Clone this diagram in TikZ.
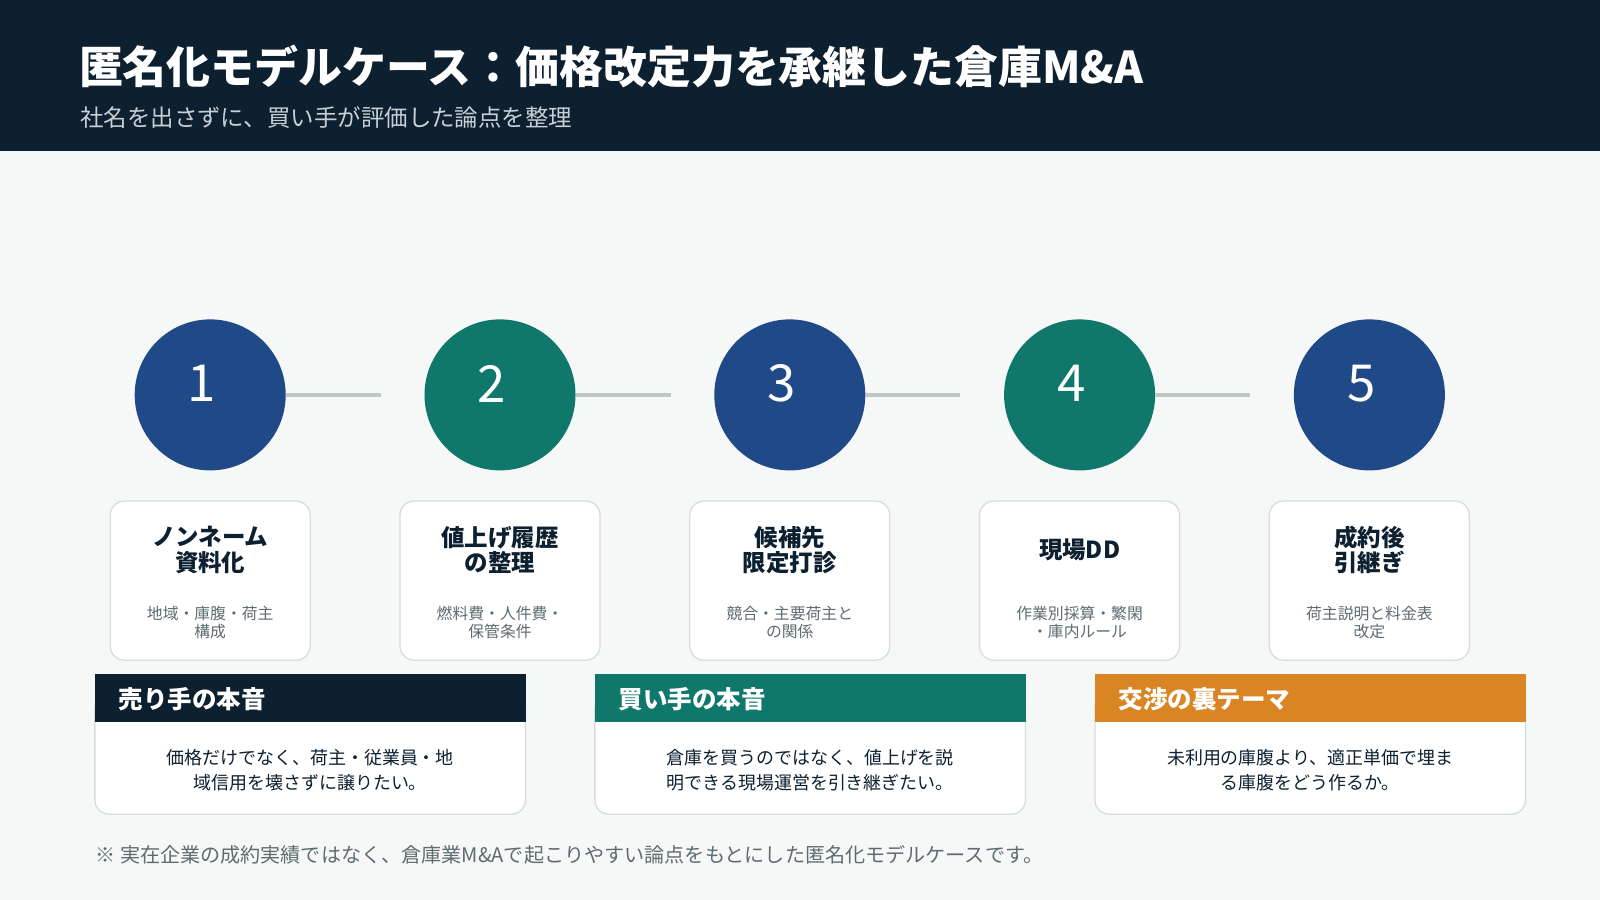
\documentclass[tikz,border=0pt]{standalone}
\usepackage{fontspec}
\usetikzlibrary{calc}
\setmainfont{Noto Sans CJK JP}
\definecolor{navy}{HTML}{0D2030}
\definecolor{bg}{HTML}{F6F8F8}
\definecolor{cblue}{HTML}{1F4A87}
\definecolor{cteal}{HTML}{10776B}
\definecolor{corange}{HTML}{D98524}
\definecolor{lineg}{HTML}{BCCAC6}
\definecolor{bord}{HTML}{D5DEDB}
\definecolor{subg}{HTML}{5E6B72}
\definecolor{subt}{HTML}{C8D0D6}
\begin{document}
\begin{tikzpicture}[x=1pt,y=-1pt,
  circ/.style={circle,minimum size=148pt,inner sep=0pt},
  num/.style={text=white,font=\fontsize{50}{50}\selectfont},
  conn/.style={draw=lineg,line width=4pt},
  card/.style={draw=bord,line width=1.3pt,fill=white,rounded corners=14pt},
  ctitle/.style={align=center,text=navy,font=\fontsize{23}{25}\selectfont\bfseries},
  csub/.style={align=center,text=subg,font=\fontsize{15.5}{17}\selectfont},
  bbox/.style={draw=bord,line width=1.3pt,fill=white,rounded corners=14pt},
  bhead/.style={text=white,font=\fontsize{24}{25}\selectfont\bfseries,anchor=west},
  btext/.style={align=center,text=navy,font=\fontsize{17.6}{24}\selectfont}]
\fill[bg] (0,0) rectangle (1568,882);
\fill[navy] (0,0) rectangle (1568,148);
\node[anchor=west,text=white,font=\fontsize{43}{46}\selectfont\bfseries] (title) at (74,65) {匿名化モデルケース：価格改定力を承継した倉庫M\&A};
\node[anchor=west,text=subt,font=\fontsize{23}{25}\selectfont] (sub) at (75,115) {社名を出さずに、買い手が評価した論点を整理};
\foreach \i/\x/\c in {1/206/cblue,2/490/cteal,3/774/cblue,4/1058/cteal,5/1342/cblue}{
  \node[circ,fill=\c] (c\i) at (\x,387) {};
  \node[num] (n\i) at (\x-8,376) {\i};
}
\foreach \i in {1,2,3,4}{
  \coordinate (e\i) at ($(c\i.east)+(93,0)$);
  \draw[conn] (c\i.east) -- (e\i);
}
\foreach \i/\x/\t/\s in {1/206/{ノンネーム\\資料化}/{地域・庫腹・荷主\\構成},
  2/490/{値上げ履歴\\の整理}/{燃料費・人件費・\\保管条件},
  3/774/{候補先\\限定打診}/{競合・主要荷主と\\の関係},
  5/1342/{成約後\\引継ぎ}/{荷主説明と料金表\\改定}}{
  \draw[card] (\x-98,491) rectangle (\x+98,647);
  \node[ctitle] (t\i) at (\x,539) {\t};
  \node[csub] (s\i) at (\x,610) {\s};
}
\draw[card] (1058-98,491) rectangle (1058+98,647);
\node[ctitle] (t4) at (1058,539) {現場DD};
\node[csub] (s4) at (1058,610) {作業別採算・繁閑\\・庫内ルール};
\foreach \i/\x/\c/\h/\b in {1/93/navy/{売り手の本音}/{価格だけでなく、荷主・従業員・地\\域信用を壊さずに譲りたい。},
  2/583/cteal/{買い手の本音}/{倉庫を買うのではなく、値上げを説\\明できる現場運営を引き継ぎたい。},
  3/1073/corange/{交渉の裏テーマ}/{未利用の庫腹より、適正単価で埋ま\\る庫腹をどう作るか。}}{
  \draw[bbox] (\x,680) rectangle (\x+422,798);
  \fill[\c] (\x,661) rectangle (\x+422,708);
  \node[bhead] (h\i) at (\x+20,685) {\h};
  \node[btext] (b\i) at (\x+211,755) {\b};
}
\node[anchor=west,text=subg,font=\fontsize{19.7}{22}\selectfont] (foot) at (90,838) {※ 実在企業の成約実績ではなく、倉庫業M\&Aで起こりやすい論点をもとにした匿名化モデルケースです。};
\end{tikzpicture}
\end{document}
